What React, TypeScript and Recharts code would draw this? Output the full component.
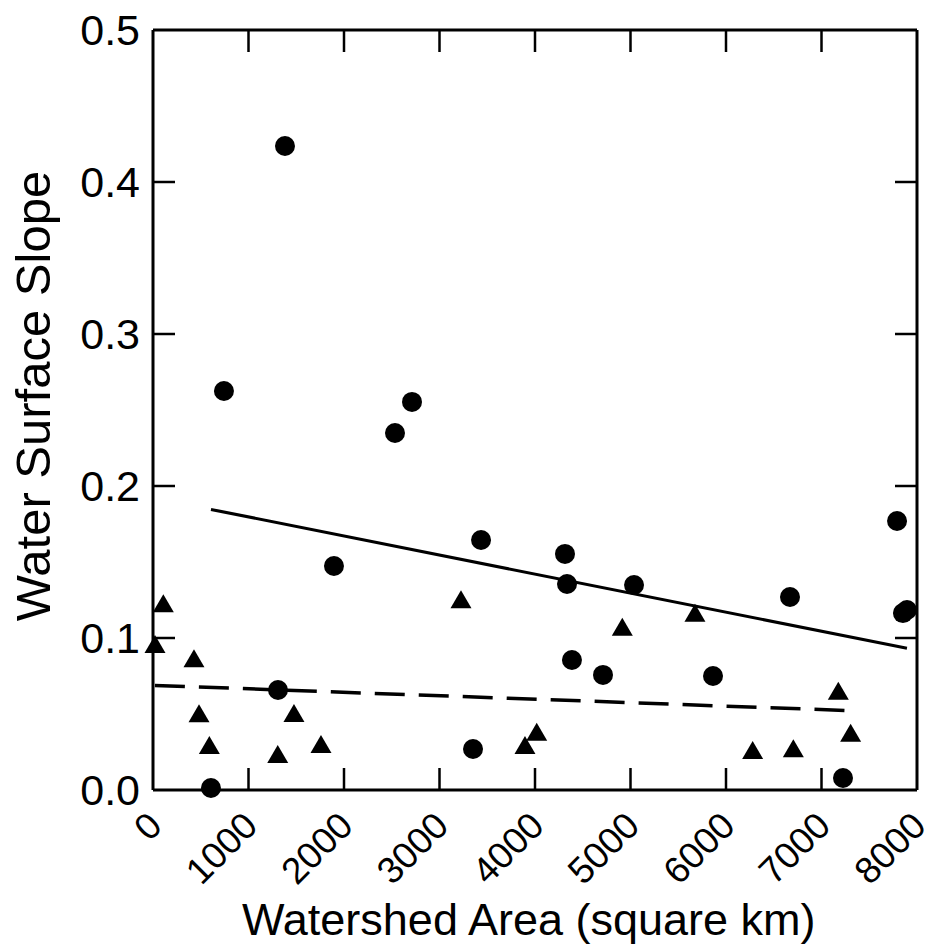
import React from "react"
import {
  ScatterChart,
  Scatter,
  XAxis,
  YAxis,
  ReferenceLine,
} from "recharts"

// watershed area (km2) vs water surface slope
const circleArea = [1382, 743, 2534, 2712, 1895, 3435, 4314, 4335, 5037, 4387, 4712, 5864, 6670, 7791, 7853, 7895, 1309, 3351, 607, 7225]
const circleSlope = [0.4237, 0.2625, 0.2349, 0.2553, 0.1474, 0.1645, 0.1553, 0.1355, 0.1349, 0.0855, 0.0757, 0.075, 0.127, 0.177, 0.1164, 0.1184, 0.0658, 0.027, 0.0013, 0.0079]

const triangleArea = [21, 108, 429, 482, 590, 1306, 1476, 1759, 3225, 3895, 4018, 4914, 5675, 6279, 6705, 7176, 7305]
const triangleSlope = [0.096, 0.1228, 0.0866, 0.0505, 0.0296, 0.0237, 0.0507, 0.0303, 0.1255, 0.0296, 0.0384, 0.1074, 0.1166, 0.0263, 0.0274, 0.0653, 0.0377]

const solidFit = [
  { x: 607, y: 0.1846 },
  { x: 7895, y: 0.0932 },
]
const dashedFit = [
  { x: 20, y: 0.0688 },
  { x: 7305, y: 0.0522 },
]

const xTicks = [0, 1000, 2000, 3000, 4000, 5000, 6000, 7000, 8000]
const yTicks = [0, 0.1, 0.2, 0.3, 0.4, 0.5]
const xInner = [1000, 2000, 3000, 4000, 5000, 6000, 7000]
const yInner = [0.1, 0.2, 0.3, 0.4]

const X_MIN = 0
const X_MAX = 8000
const Y_MIN = 0
const Y_MAX = 0.5

const circles = circleArea.map((x, i) => ({ x, y: circleSlope[i] }))
const triangles = triangleArea.map((x, i) => ({ x, y: triangleSlope[i] }))

// tick marks point inward on all four sides, drawn as points on the frame
const bottomTicks = xInner.map((x) => ({ x, y: Y_MIN }))
const topTicks = xInner.map((x) => ({ x, y: Y_MAX }))
const leftTicks = yInner.map((y) => ({ x: X_MIN, y }))
const rightTicks = yInner.map((y) => ({ x: X_MAX, y }))

const FONT = "'Liberation Sans', Arial, sans-serif"
const TICK = 22
const TICK_W = 2.5

const XLabelTick = (props: any) => {
  const { x, y, payload } = props
  const ax = x + 11
  const ay = y + 38
  return (
    <text
      x={ax}
      y={ay}
      textAnchor="end"
      fontSize={37}
      fontFamily={FONT}
      fill="#000"
      transform={`rotate(-45, ${ax}, ${ay})`}
    >
      {payload.value}
    </text>
  )
}

const YLabelTick = (props: any) => {
  const { x, y, payload } = props
  return (
    <text
      x={x - 13}
      y={y}
      dy="0.36em"
      textAnchor="end"
      fontSize={43}
      fontFamily={FONT}
      fill="#000"
    >
      {Number(payload.value).toFixed(1)}
    </text>
  )
}

const upMark = (p: any) => (
  <line x1={p.cx} y1={p.cy} x2={p.cx} y2={p.cy - TICK} stroke="#000" strokeWidth={TICK_W} />
)
const downMark = (p: any) => (
  <line x1={p.cx} y1={p.cy} x2={p.cx} y2={p.cy + TICK} stroke="#000" strokeWidth={TICK_W} />
)
const rightMark = (p: any) => (
  <line x1={p.cx} y1={p.cy} x2={p.cx + TICK} y2={p.cy} stroke="#000" strokeWidth={TICK_W} />
)
const leftMark = (p: any) => (
  <line x1={p.cx} y1={p.cy} x2={p.cx - TICK} y2={p.cy} stroke="#000" strokeWidth={TICK_W} />
)

const Dot = (props: any) => {
  const { cx, cy } = props
  return <circle cx={cx} cy={cy} r={10} fill="#000" />
}

const Tri = (props: any) => {
  const { cx, cy } = props
  return (
    <polygon
      points={`${cx},${cy - 9} ${cx - 10.5},${cy + 9} ${cx + 10.5},${cy + 9}`}
      fill="#000"
    />
  )
}

const XTitle = (props: any) => {
  const { viewBox } = props
  return (
    <text
      x={viewBox.x + 89}
      y={935}
      textAnchor="start"
      fontSize={45}
      fontFamily={FONT}
      fill="#000"
    >
      Watershed Area (square km)
    </text>
  )
}

const YTitle = (props: any) => {
  const { viewBox } = props
  const cx = 50
  const cy = viewBox.y + viewBox.height / 2 - 14
  return (
    <text
      x={cx}
      y={cy}
      textAnchor="middle"
      fontSize={49}
      fontFamily={FONT}
      fill="#000"
      transform={`rotate(-90, ${cx}, ${cy})`}
    >
      Water Surface Slope
    </text>
  )
}

export default function App() {
  return (
    <div style={{ position: "absolute", left: 0, top: 0, background: "#fff" }}>
      <ScatterChart
        width={933}
        height={948}
        margin={{ top: 30, right: 16, bottom: 0, left: 0 }}
      >
        <XAxis
          type="number"
          dataKey="x"
          domain={[X_MIN, X_MAX]}
          ticks={xTicks}
          interval={0}
          height={158}
          tickSize={0}
          tickMargin={0}
          tickLine={false}
          tick={<XLabelTick />}
          axisLine={{ stroke: "#000", strokeWidth: 3 }}
          label={<XTitle />}
        />
        <YAxis
          type="number"
          dataKey="y"
          domain={[Y_MIN, Y_MAX]}
          ticks={yTicks}
          interval={0}
          width={153}
          tickSize={0}
          tickMargin={0}
          tickLine={false}
          tick={<YLabelTick />}
          axisLine={{ stroke: "#000", strokeWidth: 3 }}
          label={<YTitle />}
        />
        <ReferenceLine y={Y_MAX} stroke="#000" strokeWidth={3} ifOverflow="visible" />
        <ReferenceLine x={X_MAX} stroke="#000" strokeWidth={3} ifOverflow="visible" />
        <Scatter data={bottomTicks} shape={upMark} isAnimationActive={false} />
        <Scatter data={topTicks} shape={downMark} isAnimationActive={false} />
        <Scatter data={leftTicks} shape={rightMark} isAnimationActive={false} />
        <Scatter data={rightTicks} shape={leftMark} isAnimationActive={false} />
        <ReferenceLine
          segment={solidFit}
          stroke="#000"
          strokeWidth={3}
          ifOverflow="visible"
        />
        <ReferenceLine
          segment={dashedFit}
          stroke="#000"
          strokeWidth={3.5}
          strokeDasharray="30 14"
          ifOverflow="visible"
        />
        <Scatter data={circles} shape={<Dot />} isAnimationActive={false} />
        <Scatter data={triangles} shape={<Tri />} isAnimationActive={false} />
      </ScatterChart>
    </div>
  )
}
